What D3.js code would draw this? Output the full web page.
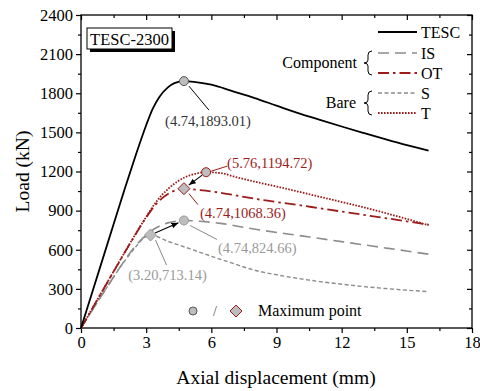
<!DOCTYPE html>
<meta charset="utf-8">
<style>
body { margin: 0; padding: 0; background: #fff; }
svg { font-family: "Liberation Serif", "Times New Roman", serif; }
</style>
<body>
<svg id="chart" width="480" height="391"></svg>
<script src="https://cdn.jsdelivr.net/npm/d3@7"></script>
<script>

// curves, [displacement (mm), load (kN)]
var tesc = [[0,0],[0.5,265],[1,530],[1.5,795],[2,1060],[2.5,1315],[3,1555],[3.3,1680],[3.6,1770],[4,1845],[4.3,1878],[4.74,1893.01],[5.2,1888],[6,1866],[7,1815],[8,1763],[9,1705],[10,1648],[11,1596],[12,1545],[13,1496],[14,1448],[15,1402],[16,1360]];
var isC = [[0,0],[1,262],[2,515],[2.5,628],[3,712],[3.5,772],[4,806],[4.4,820],[4.74,824.66],[5.5,818],[6.5,800],[7.5,772],[8.5,745],[10,710],[11,686],[12,662],[13,638],[14,614],[15,590],[16,566]];
var otC = [[0,0],[1,288],[2,575],[2.5,715],[3,848],[3.5,958],[4,1028],[4.4,1058],[4.74,1068.36],[5.5,1057],[6.5,1035],[7.5,1005],[8.5,978],[10,943],[11,918],[12,893],[13,868],[14,843],[15,818],[16,793]];
var sC = [[0,0],[1,262],[2,512],[2.5,618],[2.9,690],[3.2,713.14],[4,665],[5,608],[6,550],[7,495],[8,443],[9,408],[10,380],[11,356],[12,336],[13,318],[14,303],[15,290],[16,279]];
var tC = [[0,0],[1,289],[2,577],[2.5,717],[3,852],[3.5,975],[4,1065],[4.5,1130],[5,1170],[5.4,1188],[5.76,1194.72],[6.5,1186],[7,1163],[8,1122],[9,1085],[10,1046],[11,1006],[12,966],[13,926],[14,882],[15,836],[16,788]];

// maximum points
var peakTESC = [4.74, 1893.01];
var peakT = [5.76, 1194.72];
var peakOT = [4.74, 1068.36];
var peakIS = [4.74, 824.66];
var peakS = [3.20, 713.14];

var xTicks = [0, 3, 6, 9, 12, 15, 18];
var yTicks = [0, 300, 600, 900, 1200, 1500, 1800, 2100, 2400];

var red = "#9c1c1c", gray = "#8c8c8c", lgray = "#9a9a9a";

var svg = d3.select("#chart");
var L = 81, R = 472, T = 15, B = 328;

var x = d3.scaleLinear().domain([0, 18]).range([L, R]);
var y = d3.scaleLinear().domain([0, 2400]).range([B, T]);

var xMinor = d3.range(0, 18.01, 1.5).filter(function(d){ return d % 3; });
var yMinor = d3.range(0, 2400.1, 150).filter(function(d){ return d % 300; });

// frame
svg.append("rect").attr("x", L).attr("y", T).attr("width", R - L).attr("height", B - T)
  .attr("fill", "none").attr("stroke", "#000").attr("stroke-width", 1.3);

function axisG(tr, axis) {
  var g = svg.append("g").attr("transform", tr).call(axis)
    .attr("font-family", null).attr("font-size", null);
  g.select(".domain").remove();
  g.selectAll("line").attr("stroke-width", 1.2);
  g.selectAll("text").style("font-size", "16.5px").attr("fill", "#000");
  return g;
}

// bottom + left, outward
axisG("translate(0," + B + ")", d3.axisBottom(x).tickValues(xTicks).tickSize(5).tickPadding(3).tickFormat(d3.format("d")));
axisG("translate(0," + B + ")", d3.axisBottom(x).tickValues(xMinor).tickSize(3).tickFormat(""));
axisG("translate(" + L + ",0)", d3.axisLeft(y).tickValues(yTicks).tickSize(5).tickPadding(3).tickFormat(d3.format("d")));
axisG("translate(" + L + ",0)", d3.axisLeft(y).tickValues(yMinor).tickSize(3).tickFormat(""));

// top + right, inward
axisG("translate(0," + T + ")", d3.axisBottom(x).tickValues(xTicks).tickSize(5).tickFormat(""));
axisG("translate(0," + T + ")", d3.axisBottom(x).tickValues(xMinor).tickSize(3).tickFormat(""));
axisG("translate(" + R + ",0)", d3.axisLeft(y).tickValues(yTicks).tickSize(5).tickFormat(""));
axisG("translate(" + R + ",0)", d3.axisLeft(y).tickValues(yMinor).tickSize(3).tickFormat(""));

// axis titles
svg.append("text").attr("x", (L + R) / 2 - 0.5).attr("y", 384).attr("text-anchor", "middle")
  .style("font-size", "19.5px").text("Axial displacement (mm)");
svg.append("text").attr("transform", "translate(29," + ((T + B) / 2) + ") rotate(-90)")
  .attr("text-anchor", "middle").style("font-size", "19.5px").text("Load (kN)");

// curves
var line = d3.line().x(function(d){ return x(d[0]); }).y(function(d){ return y(d[1]); })
  .curve(d3.curveMonotoneX);

var series = [
  { data: sC, color: gray, dash: "4,2.5", w: 1.4 },
  { data: isC, color: gray, dash: "11,6", w: 1.6 },
  { data: otC, color: red, dash: "11,4,2.5,4", w: 1.8 },
  { data: tC, color: red, dash: "1.6,1.4", w: 1.8 },
  { data: tesc, color: "#000", dash: null, w: 1.8 }
];
series.forEach(function(s) {
  svg.append("path").attr("d", line(s.data)).attr("fill", "none")
    .attr("stroke", s.color).attr("stroke-width", s.w)
    .attr("stroke-dasharray", s.dash);
});

// arrows
svg.append("defs").append("marker").attr("id", "ah").attr("viewBox", "0 0 10 10")
  .attr("refX", 10).attr("refY", 5).attr("markerWidth", 7).attr("markerHeight", 7)
  .attr("markerUnits", "userSpaceOnUse").attr("orient", "auto")
  .append("path").attr("d", "M0,1 L10,5 L0,9 Z").attr("fill", "#000");

function arrow(from, to) {
  var x1 = x(from[0]), y1 = y(from[1]), x2 = x(to[0]), y2 = y(to[1]);
  var dx = x2 - x1, dy = y2 - y1, len = Math.sqrt(dx * dx + dy * dy);
  var ux = dx / len, uy = dy / len;
  svg.append("line").attr("x1", x1 + ux * 5).attr("y1", y1 + uy * 5)
    .attr("x2", x2 - ux * 6).attr("y2", y2 - uy * 6)
    .attr("stroke", "#000").attr("stroke-width", 1.1).attr("marker-end", "url(#ah)");
}
arrow(peakT, peakOT);
arrow(peakS, peakIS);

// leaders + labels
function label(p, dx1, dy1, dx2, dy2, tx, ty, anchor, color, lineColor) {
  var px = x(p[0]), py = y(p[1]);
  svg.append("line").attr("x1", px + dx1).attr("y1", py + dy1).attr("x2", px + dx2).attr("y2", py + dy2)
    .attr("stroke", lineColor).attr("stroke-width", 1);
  svg.append("text").attr("x", px + tx).attr("y", py + ty).attr("text-anchor", anchor)
    .attr("fill", color).style("font-size", "14.5px")
    .text("(" + p[0].toFixed(2) + "," + p[1].toFixed(2) + ")");
}
label(peakTESC, 5, 5, 25, 29, 24, 45, "middle", "#333", "#000");
label(peakT, 5, -1, 21, -6, 21, -4, "start", red, red);
label(peakOT, 5, 5, 14, 16, 16, 29, "start", red, red);
label(peakIS, 6, 5, 33, 19, 34, 33, "start", lgray, "#888");
label(peakS, 5, 5, 16, 30, 17, 45, "middle", lgray, "#888");

// peak markers
function circ(p, stroke) {
  svg.append("circle").attr("cx", x(p[0])).attr("cy", y(p[1])).attr("r", 4.5)
    .attr("fill", "#bdbdbd").attr("stroke", stroke).attr("stroke-width", 1);
}
function diam(cx, cy, stroke) {
  var s = 6;
  svg.append("path").attr("d", "M" + cx + "," + (cy - s) + "L" + (cx + s) + "," + cy + "L" + cx + "," + (cy + s) + "L" + (cx - s) + "," + cy + "Z")
    .attr("fill", "#bdbdbd").attr("stroke", stroke).attr("stroke-width", 1);
}
circ(peakTESC, "#555");
circ(peakT, red);
circ(peakIS, "#999");
diam(x(peakOT[0]), y(peakOT[1]), red);
diam(x(peakS[0]), y(peakS[1]), "#999");

// title box
svg.append("rect").attr("x", 90).attr("y", 31).attr("width", 85).attr("height", 21).attr("fill", "#000");
svg.append("rect").attr("x", 87).attr("y", 28).attr("width", 85).attr("height", 21)
  .attr("fill", "#fff").attr("stroke", "#000").attr("stroke-width", 1);
svg.append("text").attr("x", 129.5).attr("y", 44.5).attr("text-anchor", "middle")
  .style("font-size", "16.5px").text("TESC-2300");

// legend
var legNames = ["TESC", "IS", "OT", "S", "T"];
var legY = [32, 53, 73, 93, 113];
var legStyle = [series[4], series[1], series[2], series[0], series[3]];
legNames.forEach(function(n, i) {
  svg.append("line").attr("x1", 378).attr("x2", 417).attr("y1", legY[i]).attr("y2", legY[i])
    .attr("stroke", legStyle[i].color).attr("stroke-width", legStyle[i].w)
    .attr("stroke-dasharray", legStyle[i].dash);
  svg.append("text").attr("x", 421).attr("y", legY[i] + 5.5).style("font-size", "16px").text(n);
});
function brace(cx, y1, y2) {
  var m = (y1 + y2) / 2;
  svg.append("path").attr("d",
    "M" + (cx + 4) + "," + y1 + " Q" + cx + "," + y1 + " " + cx + "," + (y1 + 4) +
    " L" + cx + "," + (m - 3) + " Q" + cx + "," + m + " " + (cx - 4) + "," + m +
    " Q" + cx + "," + m + " " + cx + "," + (m + 3) +
    " L" + cx + "," + (y2 - 4) + " Q" + cx + "," + y2 + " " + (cx + 4) + "," + y2)
    .attr("fill", "none").attr("stroke", "#000").attr("stroke-width", 1);
}
svg.append("text").attr("x", 357).attr("y", 68).attr("text-anchor", "end").style("font-size", "16px").text("Component");
brace(368, 51, 75);
svg.append("text").attr("x", 356).attr("y", 108).attr("text-anchor", "end").style("font-size", "16px").text("Bare");
brace(368, 91, 115);

// max point legend
svg.append("circle").attr("cx", 193).attr("cy", 311).attr("r", 4).attr("fill", "#bdbdbd").attr("stroke", "#555");
svg.append("text").attr("x", 215).attr("y", 316).attr("text-anchor", "middle").attr("fill", "#555")
  .style("font-size", "14px").text("/");
diam(236, 311, red);
svg.append("text").attr("x", 258).attr("y", 316).style("font-size", "16px").text("Maximum point");

</script>
</body>
